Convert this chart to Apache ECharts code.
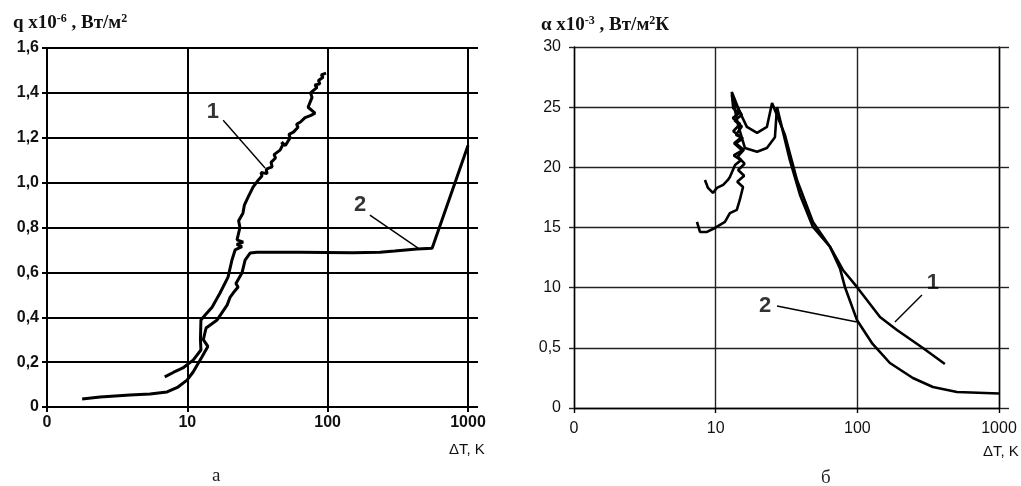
<!DOCTYPE html>
<html>
<head>
<meta charset="utf-8">
<title>q и α от ΔT</title>
<script src="https://cdn.jsdelivr.net/npm/echarts@6/dist/echarts.min.js"></script>
<style>
  html, body { margin: 0; padding: 0; background: #fff; }
  #chart { width: 1021px; height: 486px; }
</style>
</head>
<body>
<div id="chart"></div>
<script>
// tick labels as printed in the figure
const xTickLabels = ['0', '10', '100', '1000']
const qTickLabels = ['0', '0,2', '0,4', '0,6', '0,8', '1,0', '1,2', '1,4', '1,6']
const alphaTickLabels = ['0', '0,5', '10', '15', '20', '25', '30']

// panel a: q x10^-6, W/m2 vs dT, K
const qCurve1 = [
  [6.9, 0.134], [8.0, 0.155], [9.3, 0.174], [11.0, 0.209], [12.5, 0.254], [12.4, 0.30],
  [12.5, 0.388], [13.4, 0.41], [15.0, 0.445], [17.1, 0.508], [19.5, 0.579], [20.8, 0.655],
  [21.9, 0.70], [24.5, 0.715], [22.5, 0.725], [25.0, 0.735], [22.6, 0.745], [23.7, 0.80],
  [23.2, 0.83], [24.9, 0.864], [25.5, 0.90], [27.1, 0.935], [29.4, 0.98], [31.9, 1.01],
  [34.0, 1.03], [33.5, 1.045], [37.0, 1.04], [36.5, 1.06], [40.2, 1.07], [39.5, 1.09],
  [42.5, 1.11], [41.5, 1.125], [45.8, 1.145], [48.0, 1.17], [47.0, 1.18], [50.0, 1.165],
  [54.0, 1.20], [53.0, 1.215], [57.0, 1.225], [61.5, 1.247], [60.0, 1.26], [64.0, 1.27],
  [69.0, 1.29], [76.0, 1.30], [81.3, 1.31], [72.5, 1.336], [77.4, 1.38], [75.5, 1.40],
  [84.0, 1.425], [81.0, 1.435], [88.0, 1.44], [86.0, 1.455], [92.7, 1.47], [90.0, 1.48],
  [97.4, 1.488]
]
const qCurve2 = [
  [1.78, 0.036], [2.39, 0.045], [3.9, 0.053], [5.42, 0.058], [7.17, 0.067], [8.58, 0.089],
  [9.95, 0.12], [11.0, 0.156], [12.7, 0.223], [14.0, 0.27], [13.0, 0.30], [13.6, 0.352],
  [16.3, 0.388], [19.2, 0.454], [20.2, 0.49], [21.2, 0.508], [23.0, 0.535], [22.2, 0.55],
  [24.5, 0.597], [25.8, 0.655], [28.0, 0.686], [31.4, 0.69], [63.6, 0.69], [150, 0.688],
  [236, 0.69], [300, 0.695], [433, 0.704], [555, 0.708], [1000, 1.165]
]
const qLeader1 = [[15.2, 1.314], [18.0, 1.278], [35.8, 1.065]]
const qLeader2 = [[170, 0.90], [200, 0.855], [441, 0.708]]

// panel б: alpha x10^-3, W/m2K vs dT, K
const alphaCurve1 = [
  [8.40, 18.95], [8.83, 18.29], [9.57, 17.87], [10.2, 18.29], [11.3, 18.54], [12.2, 18.95],
  [12.6, 19.2], [13.7, 20.2], [15.1, 20.6], [13.4, 21.0], [15.4, 21.4], [13.5, 22.0],
  [15.2, 22.5], [13.3, 23.0], [14.9, 23.6], [13.2, 24.1], [14.6, 24.5], [13.3, 24.9],
  [13.0, 26.27], [14.8, 24.6], [16.6, 23.36], [19.6, 22.86], [23.0, 23.36], [25.0, 25.35],
  [25.8, 25.5], [30.8, 22.7], [37.5, 18.95], [48.6, 15.46], [64.1, 13.4], [79.1, 11.47],
  [99.3, 10.06], [144.5, 7.56], [190.3, 6.48], [290.4, 4.99], [415, 3.66]
]
const alphaCurve2 = [
  [7.38, 15.46], [7.75, 14.63], [8.68, 14.63], [9.89, 14.96], [11.63, 15.46], [12.6, 16.2],
  [14.1, 16.46], [14.8, 17.29], [15.6, 18.37], [14.2, 18.8], [15.9, 19.3], [14.4, 19.78],
  [16.0, 20.3], [14.3, 20.9], [15.8, 21.45], [13.9, 22.0], [15.6, 22.4], [13.9, 22.7],
  [15.3, 23.4], [13.6, 23.9], [15.3, 24.36], [13.2, 25.6], [13.0, 26.0], [14.4, 23.5],
  [16.1, 21.6], [19.6, 21.3], [23.0, 21.6], [26.2, 22.5], [27.1, 25.0], [33.4, 20.6],
  [39.4, 17.7], [48.6, 15.05], [64.1, 13.4], [75.4, 11.6], [81.7, 10.06], [99.3, 7.32],
  [126.8, 5.40], [169.8, 3.74], [246.6, 2.49], [341.6, 1.75], [504.7, 1.33], [1000, 1.2]
]
const alphaLeader1 = [[342, 10.39], [285.8, 9.39], [184.2, 7.15]]
const alphaLeader2 = [[22.3, 8.48], [27.1, 8.48], [99.3, 7.15]]

const curveNames = ['1', '2']

const chart = echarts.init(document.getElementById('chart'))

const sansFont = 'Liberation Sans, Arial, sans-serif'
const serifFont = 'Liberation Serif, Times New Roman, serif'

function xAxisCfg(gridIndex, gridColor, gridWidth, bold, margin) {
  return {
    type: 'log',
    logBase: 10,
    gridIndex: gridIndex,
    min: 1,
    max: 1000,
    axisLine: { show: true, lineStyle: { color: '#000', width: gridWidth } },
    axisTick: { show: true, length: 5, lineStyle: { color: '#000', width: gridWidth } },
    minorTick: { show: false },
    splitLine: { show: true, lineStyle: { color: gridColor, width: gridWidth } },
    axisLabel: {
      margin: margin,
      color: '#111',
      fontFamily: sansFont,
      fontSize: 16,
      fontWeight: bold ? 'bold' : 'normal',
      formatter: v => xTickLabels[Math.round(Math.log10(v))]
    }
  }
}

function yAxisCfg(gridIndex, max, interval, labels, gridColor, gridWidth, bold, margin, right) {
  return {
    type: 'value',
    gridIndex: gridIndex,
    position: right ? 'right' : 'left',
    min: 0,
    max: max,
    interval: interval,
    axisLine: { show: true, lineStyle: { color: '#000', width: gridWidth } },
    axisTick: { show: true, length: right ? 10 : 5, lineStyle: { color: gridColor, width: gridWidth } },
    splitLine: { show: !right, lineStyle: { color: gridColor, width: gridWidth } },
    axisLabel: {
      show: !right,
      margin: margin,
      color: '#111',
      fontFamily: sansFont,
      fontSize: 16,
      fontWeight: bold ? 'bold' : 'normal',
      formatter: v => labels[Math.round(v / interval)]
    }
  }
}

function curve(data, xi, yi, width) {
  return {
    type: 'line',
    xAxisIndex: xi,
    yAxisIndex: yi,
    data: data,
    showSymbol: false,
    silent: true,
    lineStyle: { color: '#000', width: width },
    z: 5
  }
}

// leader data: first point is the digit, line drawn from the second point
function leaderSeries(data, name, xi, yi) {
  return [
    {
      type: 'line',
      xAxisIndex: xi,
      yAxisIndex: yi,
      data: data.slice(1),
      showSymbol: false,
      silent: true,
      lineStyle: { color: '#000', width: 1.4 },
      z: 6
    },
    {
      type: 'scatter',
      xAxisIndex: xi,
      yAxisIndex: yi,
      data: data.slice(0, 1),
      symbolSize: 1,
      itemStyle: { color: 'rgba(0,0,0,0)' },
      silent: true,
      label: {
        show: true,
        position: 'inside',
        formatter: name,
        fontFamily: sansFont,
        fontSize: 22,
        fontWeight: 'bold',
        color: '#000'
      },
      z: 7
    }
  ]
}

const supRich = {
  n: { fontFamily: serifFont, fontSize: 19, fontWeight: 'bold', color: '#111', lineHeight: 20 },
  s: { fontFamily: serifFont, fontSize: 12, fontWeight: 'bold', color: '#111', verticalAlign: 'top', lineHeight: 20 }
}

const option = {
  backgroundColor: '#fff',
  animation: false,
  title: [
    { left: 8, top: 8, text: '{n|q x10}{s|-6}{n| , Вт/м}{s|2}', textStyle: { rich: supRich } },
    { left: 536, top: 10, text: '{n|α x10}{s|-3}{n| , Вт/м}{s|2}{n|К}', textStyle: { rich: supRich } },
    { left: 444, top: 437, text: 'ΔT, K', textStyle: { fontFamily: sansFont, fontSize: 15, fontWeight: 'normal', color: '#111' } },
    { left: 978, top: 439, text: 'ΔT, K', textStyle: { fontFamily: sansFont, fontSize: 15, fontWeight: 'normal', color: '#111' } },
    { left: 207, top: 462, text: 'а', textStyle: { fontFamily: serifFont, fontSize: 19, fontWeight: 'normal', color: '#222' } },
    { left: 816, top: 464, text: 'б', textStyle: { fontFamily: serifFont, fontSize: 19, fontWeight: 'normal', color: '#222' } }
  ],
  grid: [
    { left: 47, right: 553, top: 48, bottom: 79 },
    { left: 574, right: 22, top: 47, bottom: 78 }
  ],
  xAxis: [
    xAxisCfg(0, '#000', 2, true, 8),
    xAxisCfg(1, '#222', 1.4, false, 13)
  ],
  yAxis: [
    yAxisCfg(0, 1.6, 0.2, qTickLabels, '#000', 2, true, 8, false),
    yAxisCfg(0, 1.6, 0.2, qTickLabels, '#000', 2, true, 8, true),
    yAxisCfg(1, 30, 5, alphaTickLabels, '#222', 1.4, false, 13, false),
    yAxisCfg(1, 30, 5, alphaTickLabels, '#222', 1.4, false, 13, true)
  ],
  series: [
    curve(qCurve1, 0, 0, 3),
    curve(qCurve2, 0, 0, 3),
    ...leaderSeries(qLeader1, curveNames[0], 0, 0),
    ...leaderSeries(qLeader2, curveNames[1], 0, 0),
    curve(alphaCurve1, 1, 2, 2.6),
    curve(alphaCurve2, 1, 2, 2.6),
    ...leaderSeries(alphaLeader1, curveNames[0], 1, 2),
    ...leaderSeries(alphaLeader2, curveNames[1], 1, 2)
  ]
}

chart.setOption(option)
</script>
</body>
</html>
